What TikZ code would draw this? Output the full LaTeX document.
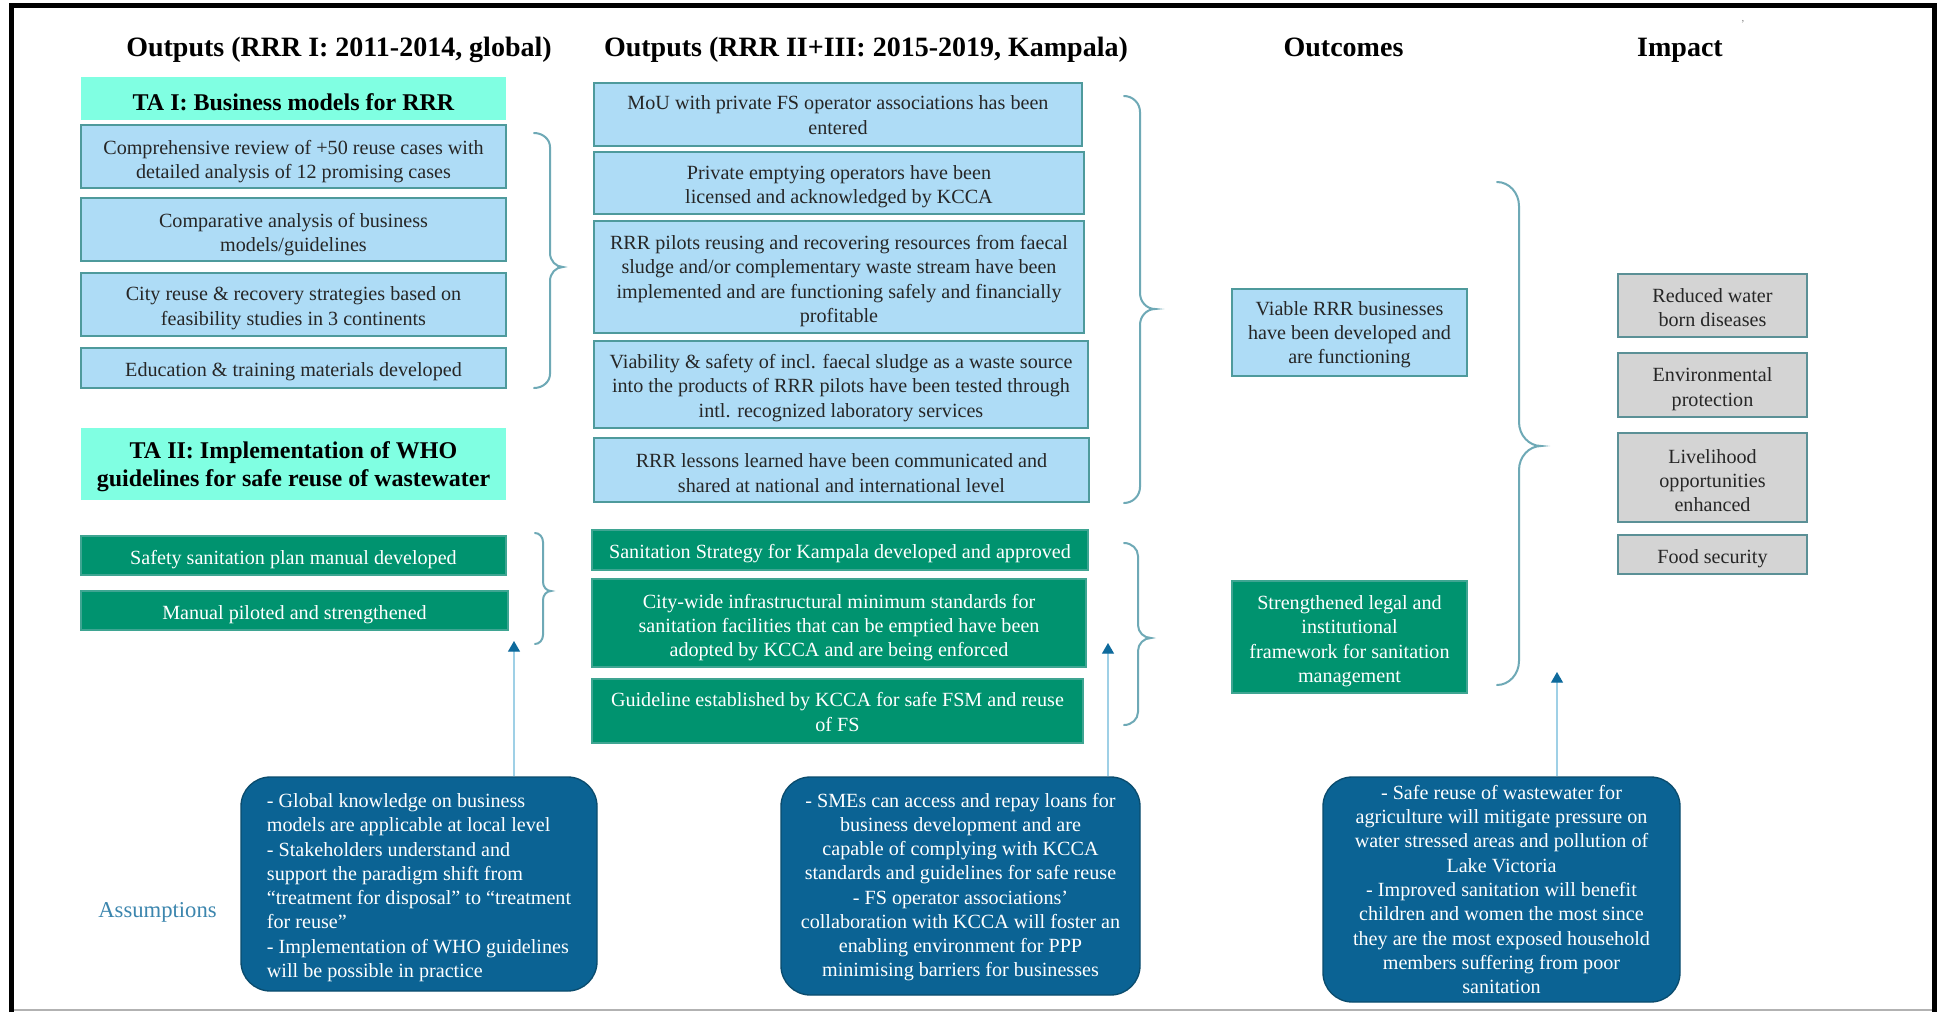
\documentclass[tikz,border=0pt]{standalone}
\usepackage{fontspec}
\setmainfont{Liberation Serif}
\usetikzlibrary{arrows.meta,backgrounds}
\definecolor{lblue}{HTML}{AEDCF6}
\definecolor{lblueb}{HTML}{4E9A9C}
\definecolor{aqua}{HTML}{80FFE2}
\definecolor{sgreen}{HTML}{00936F}
\definecolor{sgreenb}{HTML}{3FA592}
\definecolor{gbox}{HTML}{D4D4D4}
\definecolor{gboxb}{HTML}{5B9096}
\definecolor{abox}{HTML}{0B6394}
\definecolor{aboxb}{HTML}{0A4C6E}
\definecolor{brc}{HTML}{6EA9B6}
\definecolor{arrline}{HTML}{9FD0E6}
\definecolor{arrhead}{HTML}{0E6A9C}
\definecolor{hlinec}{HTML}{A3C6DA}
\definecolor{asmtxt}{HTML}{3C86AE}
\tikzset{
 txtbase/.style={inner sep=0pt, align=center, font=\fontsize{15.1}{18.2}\selectfont,
   /utils/exec={\def\mynl{1}\def\myshift{0pt}\def\mylsk{18.2pt}\def\myasc{10.4pt}},
   execute at begin node={\pgfmathsetlengthmacro\myh{(\mynl-1)*\mylsk+\myasc+2*\myshift}\rule{0pt}{\myh}}},
 nl/.style={/utils/exec={\def\mynl{#1}}},
 sh/.style={/utils/exec={\def\myshift{#1}}},
 wh/.style 2 args={minimum width=#1*0.75pt, minimum height=#2*0.75pt},
 bluebox/.style={txtbase, draw=lblueb, fill=lblue, line width=1.1pt, text=black!85, sh=3pt},
 tabox/.style={txtbase, fill=aqua, font=\fontsize{18}{21.5}\selectfont\bfseries,
   /utils/exec={\def\mylsk{21.5pt}\def\myasc{12.2pt}}, sh=2.6pt},
 greenbox/.style={txtbase, draw=sgreenb, fill=sgreen, line width=1pt, text=white, sh=2.8pt},
 graybox/.style={txtbase, draw=gboxb, fill=gbox, line width=1.1pt, text=black!85, sh=2.4pt},
 asmbox/.style={txtbase, draw=aboxb, fill=abox, line width=1pt, text=white, rounded corners=22pt},
 header/.style={font=\fontsize{21}{25}\selectfont\bfseries, inner sep=0pt, anchor=base},
 bracestyle/.style={draw=brc, line width=1.5pt, line cap=round},
 uparrow/.style={draw=arrline, line width=0.9pt, -{Triangle[width=9pt,length=8pt,color=arrhead]}},
}
% x0 = curl end, xv = vertical line, xt = tip, y0 top, y1 bottom, ym tip, r curl radius
\newcommand\mybrace[7]{%
 \draw[bracestyle] (#1,#4) .. controls ({#1+0.55*(#2-#1)},#4) and (#2,{#4+0.45*#7}) .. (#2,{#4+#7})
   -- (#2,{#6-#7}) .. controls (#2,{#6-0.45*#7}) and ({#2+0.45*(#3-#2)},#6) .. (#3,#6)
   .. controls ({#2+0.45*(#3-#2)},#6) and (#2,{#6+0.45*#7}) .. (#2,{#6+#7})
   -- (#2,{#5-#7}) .. controls (#2,{#5-0.45*#7}) and ({#1+0.55*(#2-#1)},#5) .. (#1,#5);}
\begin{document}
\begin{tikzpicture}[x=0.75pt,y=-0.75pt]
\useasboundingbox (0,0) rectangle (1939,1014);
\fill[white] (0,0) rectangle (1939,1014);

% headers
\node[header] (h1) at (339,56.5) {Outputs (RRR I: 2011-2014, global)};
\node[header] (h2) at (866,56.5) {Outputs (RRR II+III: 2015-2019, Kampala)};
\node[header] (h3) at (1343.5,56.5) {Outcomes};
\node[header] (h4) at (1680,56.5) {Impact};
\node[font=\fontsize{8}{8}\selectfont, text=gray, inner sep=0pt] (mk) at (1743,24) {'};

% left column
\node[tabox, wh={425}{43}, sh=3pt] (ta1) at (293.5,98.5) {TA I: Business models for RRR};
\node[bluebox, wh={425}{63}, nl=2, sh=3.7pt] (l1) at (293.5,156.5) {Comprehensive review of +50 reuse cases with\\detailed analysis of 12 promising cases};
\node[bluebox, wh={425}{63}, nl=2, sh=3.7pt] (l2) at (293.5,229.5) {Comparative analysis of business\\models/guidelines};
\node[bluebox, wh={425}{63}, nl=2, sh=2.8pt] (l3) at (293.5,304.5) {City reuse \& recovery strategies based on\\feasibility studies in 3 continents};
\node[bluebox, wh={425}{40}] (l4) at (293.5,368) {Education \& training materials developed};
\node[tabox, wh={425}{72}, nl=2, sh=2.3pt] (ta2) at (293.5,464) {TA II: Implementation of WHO\\guidelines for safe reuse of wastewater};
\node[greenbox, wh={425}{39}] (g1) at (293.5,555.5) {Safety sanitation plan manual developed};
\node[greenbox, wh={427}{39}] (g2) at (294.5,610.5) {Manual piloted and strengthened};

% middle column
\node[bluebox, wh={488}{63}, nl=2, sh=0.5pt] (m1) at (838,114.5) {MoU with private FS operator associations has been\\entered};
\node[bluebox, wh={490}{62}, nl=2, sh=2.8pt] (m2) at (839,183) {Private emptying operators have been\\licensed and acknowledged by KCCA};
\node[bluebox, wh={490}{112}, nl=4, sh=3.2pt] (m3) at (839,277) {RRR pilots reusing and recovering resources from faecal\\sludge and/or complementary waste stream have been\\implemented and are functioning safely and financially\\profitable};
\node[bluebox, wh={494}{87}, nl=3, sh=2.8pt] (m4) at (841,384.5) {Viability \& safety of incl. faecal sludge as a waste source\\into the products of RRR pilots have been tested through\\intl. recognized laboratory services};
\node[bluebox, wh={495}{64}, nl=2, sh=2.3pt] (m5) at (841.5,470) {RRR lessons learned have been communicated and\\shared at national and international level};
\node[greenbox, wh={496}{40}] (mg1) at (840,550) {Sanitation Strategy for Kampala developed and approved};
\node[greenbox, wh={494}{88}, nl=3, sh=3.7pt] (mg2) at (839,623) {City-wide infrastructural minimum standards for\\sanitation facilities that can be emptied have been\\adopted by KCCA and are being enforced};
\node[greenbox, wh={491}{64}, nl=2, sh=0.9pt] (mg3) at (837.5,711) {Guideline established by KCCA for safe FSM and reuse\\of FS};

% outcomes
\node[bluebox, wh={235}{87}, nl=3, sh=1.6pt] (oc1) at (1349.5,332.5) {Viable RRR businesses\\have been developed and\\are functioning};
\node[greenbox, wh={235}{112}, nl=4, sh=3.2pt] (oc2) at (1349.5,637) {Strengthened legal and\\institutional\\framework for sanitation\\management};

% impact
\node[graybox, wh={189}{63}, nl=2, sh=1.4pt] (i1) at (1712.5,305.5) {Reduced water\\born diseases};
\node[graybox, wh={189}{64}, nl=2, sh=3.2pt] (i2) at (1712.5,385) {Environmental\\protection};
\node[graybox, wh={189}{89}, nl=3, sh=2.3pt] (i3) at (1712.5,477.5) {Livelihood\\opportunities\\enhanced};
\node[graybox, wh={189}{39}, sh=2.8pt] (i4) at (1712.5,554.5) {Food security};

% braces
\mybrace{534}{550}{563}{133}{388}{267}{14}
\mybrace{535}{543}{551}{533}{644}{591}{9}
\mybrace{1124}{1140}{1155}{96}{503}{309}{16}
\mybrace{1124}{1138}{1151}{543}{725}{638}{13}
\mybrace{1497}{1519}{1541}{182}{685}{446}{24}

% assumptions
\node[font=\fontsize{17}{20}\selectfont, text=asmtxt, anchor=base east, inner sep=0pt] (lab) at (217,917) {Assumptions};
\node[asmbox, wh={356}{214}, align=left, nl=8, sh=2.8pt] (a1) at (419,884) {- Global knowledge on business\\models are applicable at local level\\- Stakeholders understand and\\support the paradigm shift from\\“treatment for disposal” to “treatment\\for reuse”\\- Implementation of WHO guidelines\\will be possible in practice};
\node[asmbox, wh={359}{218}, nl=8, sh=0.9pt] (a2) at (960.5,886) {- SMEs can access and repay loans for\\business development and are\\capable of complying with KCCA\\standards and guidelines for safe reuse\\- FS operator associations'\\collaboration with KCCA will foster an\\enabling environment for PPP\\minimising barriers for businesses};
\node[asmbox, wh={357}{225}, nl=9] (a3) at (1501.5,889.5) {- Safe reuse of wastewater for\\agriculture will mitigate pressure on\\water stressed areas and pollution of\\Lake Victoria\\- Improved sanitation will benefit\\children and women the most since\\they are the most exposed household\\members suffering from poor\\sanitation};

\begin{scope}[on background layer]
\draw[draw=hlinec, line width=1pt, shorten <=3pt] (lab.base east) -- (lab.base east -| a3.west);
\end{scope}

\coordinate (t1) at (514,641);
\coordinate (t2) at (1108,643);
\coordinate (t3) at (1557,672);
\draw[uparrow] (a1.north -| t1) -- (t1);
\draw[uparrow] (a2.north -| t2) -- (t2);
\draw[uparrow] (a3.north -| t3) -- (t3);

% frame
\draw[gray!60, line width=1.1pt] (11.5,1010) -- (1934,1010);
\draw[black, line width=3.75pt] (11.5,1012) -- (11.5,5.5) -- (1934,5.5) -- (1934,1012);
\end{tikzpicture}
\end{document}
